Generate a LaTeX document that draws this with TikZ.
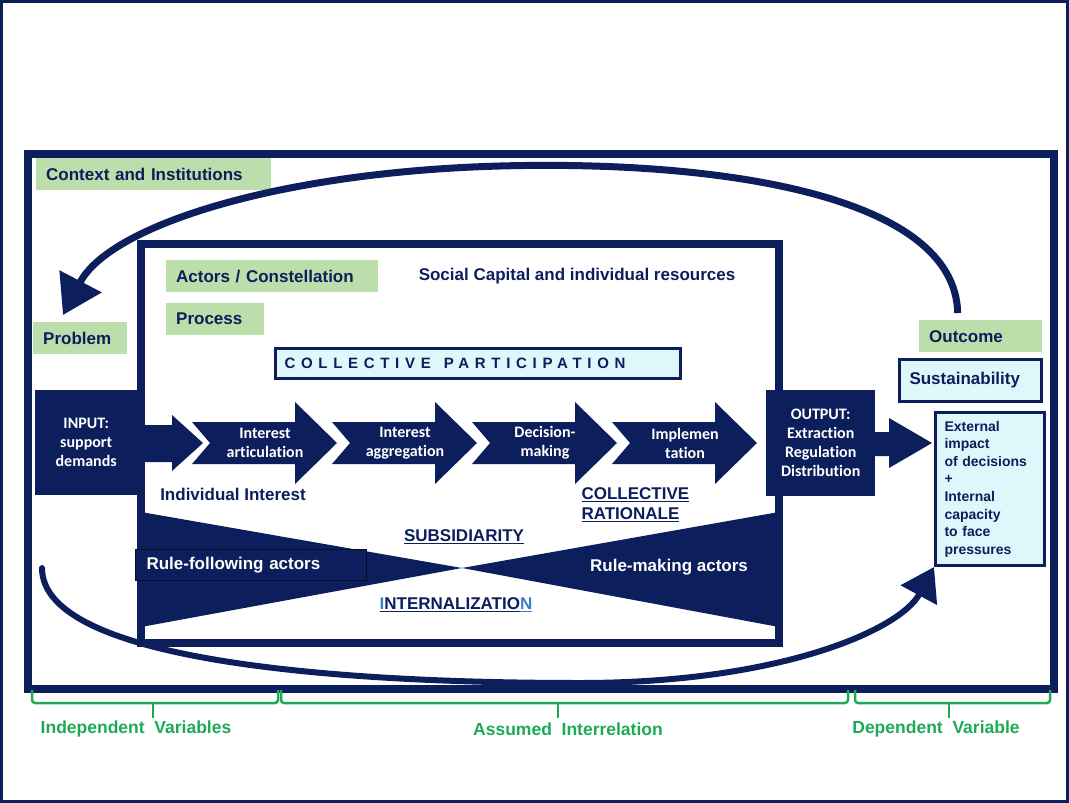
\documentclass[tikz,border=0pt]{standalone}
\usepackage{fontspec}
\setmainfont{Liberation Sans}
\newfontfamily\calfont[Ligatures=NoCommon]{Carlito}
\newfontfamily\spacedfont[LetterSpace=38]{Liberation Sans}
\usepackage{tikz}
\usetikzlibrary{arrows.meta}
\usepackage{xcolor}

\definecolor{navy}{HTML}{0C1E5B}
\definecolor{boxgreen}{HTML}{BCDEAA}
\definecolor{pale}{HTML}{DDF7FB}
\definecolor{brgreen}{HTML}{1DAA55}
\definecolor{ublue}{HTML}{3C7FC4}

\tikzset{
  lbl/.style={font=\fontsize{17}{20}\selectfont\bfseries, text=navy},
  greenbox/.style={lbl, fill=boxgreen, anchor=north west, inner xsep=10pt, inner ysep=0pt, minimum height=32pt, align=left},
  palebox/.style={lbl, fill=pale, draw=navy, line width=3pt, anchor=north west, align=left, inner xsep=9pt},
  navybox/.style={fill=navy, text=white, font=\calfont\fontsize{16}{19}\selectfont\bfseries, align=center, anchor=north west, inner sep=0pt},
  chevtxt/.style={text=white, font=\calfont\fontsize{16}{19}\selectfont\bfseries, align=center},
  loopline/.style={navy, line width=7pt, -{Triangle[length=38pt,width=46pt]}},
  bracket/.style={brgreen, line width=2.5pt, rounded corners=3pt},
  bracelbl/.style={text=brgreen, font=\fontsize{17.5}{20}\selectfont\bfseries}
}

\begin{document}
\begin{tikzpicture}[x=1pt,y=-1pt]
		\useasboundingbox (0,0) rectangle (1069,803);
		\draw[navy, line width=3pt] (1.5,1.5) rectangle (1067.5,801.5); % marco
		\draw[navy, line width=8pt] (28,154) rectangle (1054,689); % contexto
		% etiquetas verdes
		\node[greenbox, text width=215pt] (ctx) at (36,158) {Context and Institutions};
		\node[greenbox, text width=74pt] (problem) at (33,322) {Problem};
		\node[greenbox, text width=103pt] (outcome) at (919,320) {Outcome};
		% lazo superior
		\draw[loopline] ([shift={(-23,-7)}]outcome.north) .. controls (955,195) and (720,160) .. (500,166)
		.. controls (280,172) and (110,225) .. ([shift={(30,-7)}]problem.north west);
		\draw[navy, line width=8pt] (141,244) rectangle (779,643); % actores
		\node[greenbox, text width=192pt] (actors) at (166,260) {Actors / Constellation};
		\node[greenbox, text width=78pt] (process) at (166,303) {Process};
		\node[lbl] (social) at (577,276) {Social Capital and individual resources};
		\node[palebox, text width=387pt, minimum height=30pt, font=\spacedfont\fontsize{15}{18}\selectfont\bfseries] (particip) at (274,347) {COLLECTIVE\hspace{13pt}PARTICIPATION};
		% entrada y salida
		\node[navybox, minimum width=102pt, minimum height=105pt] (input) at (35,390) {INPUT:\\support\\demands};
		\node[navybox, minimum width=109pt, minimum height=106pt] (output) at (766,390) {OUTPUT:\\Extraction\\Regulation\\Distribution};
		\fill[navy] (137,425) -- (172,425) -- (172,415) -- (203,443) -- (172,471) -- (172,462) -- (137,462) -- cycle;
		\fill[navy] (875,432) -- (889,432) -- (889,418) -- (932,443) -- (889,468) -- (889,456) -- (875,456) -- cycle;
		% etapas
		\foreach \i/\txt [count=\n] in {0/{Interest\\articulation}, 1/{Interest\\aggregation}, 2/{Decision-\\making}, 3/{Implemen\\tation}}{
			\pgfmathsetmacro{\L}{192+140*\i}
			\fill[navy] (\L,422) -- ++(103,0) -- ++(0,-20) -- ++(42,41) -- ++(-42,41) -- ++(0,-20) -- ++(-103,0) -- ++(18,-21) -- cycle;
			\node[chevtxt] (stage\n) at (\L+73,443) {\txt};
		}
		\node[lbl] (indiv) at (233,494) {Individual Interest};
		\node[lbl, align=left, anchor=west] (rational) at (578,505) {\underline{COLLECTIVE}\\\underline{RATIONALE}};
		% reloj de arena
		\fill[navy] (141,512) -- (462,568) -- (141,627) -- cycle;
		\fill[navy] (779,512) -- (462,568) -- (779,627) -- cycle;
		\node[lbl] (subsid) at (464,537) {\underline{SUBSIDIARITY}};
		\node[lbl] (intern) at (456,605) {\underline{\textcolor{ublue}{I}NTERNALIZATIO}\textcolor{ublue}{\underline{N}}};
		\node[lbl, text=white, fill=navy, draw=black!55!navy, line width=1pt, anchor=north west, minimum height=31pt, text width=209pt, inner xsep=11pt, inner ysep=0pt, align=left] (follow) at (135,549) {Rule-following actors};
		\node[lbl, text=white] (making) at (669,567) {Rule-making actors};
		% resultado
		\node[palebox, text width=122pt, minimum height=42pt, inner xsep=10pt] (sust) at (898,358) {Sustainability};
		\node[palebox, font=\fontsize{14}{17.6}\selectfont\bfseries, text width=91pt, minimum height=153pt] (ext) at (934,411) {External\\impact\\of decisions\\+\\Internal\\capacity\\to face\\pressures};
		% lazo inferior
		\coordinate (loopstart) at (42,568);
		\draw[navy, line width=6pt, line cap=round, -{Triangle[length=32pt,width=40pt]}] (loopstart) .. controls (42,660) and (330,683) .. (580,683)
		.. controls (780,683) and (900,630) .. (ext.south west);
		% llaves
		\foreach \a/\b/\m in {32/278/153, 281/848/558, 855/1050/949}{
			\draw[bracket] (\a,690) -- (\a,703) -- (\b,703) -- (\b,690);
			\draw[bracket] (\m,703) -- (\m,718);
		}
		\node[bracelbl] (indep) at (136,729) {Independent\ \ Variables};
		\node[bracelbl] (assumed) at (568,729) {Assumed\ \ Interrelation};
		\node[bracelbl] (dep) at (936,729) {Dependent\ \ Variable};
\end{tikzpicture}
\end{document}
